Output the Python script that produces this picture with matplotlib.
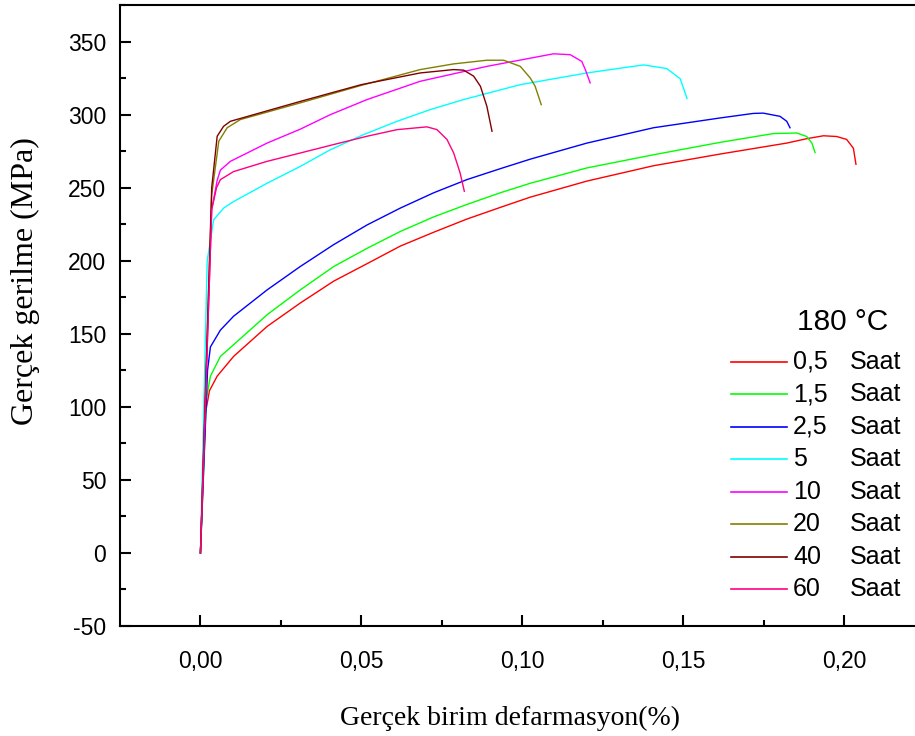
import matplotlib
matplotlib.use('Agg')
import matplotlib.pyplot as plt
from matplotlib.lines import Line2D

plt.rcParams['axes.unicode_minus'] = False

# ── data ─────────────────────────────────────────────────────────────────────
red_x = [0, 0.0015, 0.0028, 0.0052, 0.0103, 0.0207, 0.031, 0.0414, 0.0518, 0.0621,
         0.0725, 0.0828, 0.0932, 0.1025, 0.1201, 0.1408, 0.1615, 0.1822, 0.1884,
         0.1936, 0.1977, 0.2008, 0.2029, 0.2037]
red_y = [0, 95, 111, 121, 134.5, 155, 171, 186, 198, 210, 219.5, 228.5, 236.5, 243.5,
         254.5, 265, 273, 280.5, 283.5, 285.5, 285, 283, 277, 266]

green_x = [0, 0.0018, 0.0031, 0.0062, 0.0103, 0.0207, 0.031, 0.0414, 0.0518, 0.0621,
           0.0725, 0.0828, 0.0932, 0.1025, 0.1201, 0.1408, 0.1615, 0.178, 0.1853,
           0.1884, 0.19, 0.191]
green_y = [0, 105, 121, 134.5, 142.5, 163, 180, 196, 208.5, 220, 230, 238.5, 246.5,
           253, 263.5, 272.5, 281, 287, 287.4, 285, 280.5, 274]

blue_x = [0, 0.0022, 0.0031, 0.0062, 0.0103, 0.0207, 0.031, 0.0414, 0.0518, 0.0621,
          0.0725, 0.0828, 0.0932, 0.1025, 0.1201, 0.1408, 0.1615, 0.1718, 0.1749,
          0.1801, 0.1822, 0.1832]
blue_y = [0, 125, 141, 152.5, 162, 180, 196, 211, 224.5, 236, 246.5, 255.5, 263,
          269.5, 280.5, 291, 297.7, 300.8, 301, 298.8, 295.4, 291]

cyan_x = [0, 0.0021, 0.0041, 0.0072, 0.0103, 0.0207, 0.031, 0.0404, 0.0507, 0.0611,
          0.0714, 0.0818, 0.0994, 0.1201, 0.1377, 0.1449, 0.1491, 0.1512]
cyan_y = [0, 200, 228, 236, 240.5, 253, 264.5, 276, 286.3, 295.4, 303.4, 310.3,
          320.5, 328.5, 334, 331.5, 324.5, 311]

magenta_x = [0, 0.0035, 0.0052, 0.0062, 0.0093, 0.0207, 0.031, 0.0404, 0.0518,
             0.0683, 0.089, 0.1097, 0.1149, 0.1185, 0.1196, 0.1211]
magenta_y = [0, 235, 255, 262, 268, 280.5, 290, 300, 310.3, 322.8, 333, 341.6, 341,
             336.4, 330.8, 321.7]

olive_x = [0, 0.0035, 0.0057, 0.0083, 0.0124, 0.031, 0.05, 0.0683, 0.0787, 0.089,
           0.0942, 0.0994, 0.1025, 0.104, 0.1059]
olive_y = [0, 245, 281.8, 291, 296.6, 308, 320, 330.8, 334.7, 337.2, 337.2, 333,
           325, 319.4, 306.8]

wine_x = [0, 0.0035, 0.0052, 0.0072, 0.0093, 0.031, 0.05, 0.0683, 0.0787, 0.0818,
          0.0849, 0.087, 0.089, 0.0906]
wine_y = [0, 250, 285.2, 292, 295.4, 309, 320.5, 328.5, 330.8, 330.4, 326.3, 319.4,
          305.7, 288.6]

pink_x = [0, 0.0035, 0.0050, 0.0062, 0.0103, 0.0207, 0.031, 0.0414, 0.0518, 0.0611,
          0.0704, 0.0735, 0.0766, 0.0787, 0.0807, 0.082]
pink_y = [0, 235, 250, 255.5, 261, 268, 273.7, 279.5, 285.2, 289.7, 291.6, 289.7,
          283, 273.7, 260, 247.5]

hours  = ['0,5', '1,5', '2,5', '5', '10', '20', '40', '60']
colors = ['#FF0000', '#00FF00', '#0000FF', '#00FFFF', '#FF00FF', '#808000',
          '#800000', '#FF0080']
series = [(red_x, red_y), (green_x, green_y), (blue_x, blue_y), (cyan_x, cyan_y),
          (magenta_x, magenta_y), (olive_x, olive_y), (wine_x, wine_y),
          (pink_x, pink_y)]

SANS  = 'Liberation Sans'
SERIF = 'Liberation Serif'
W, H = 915, 736

fig = plt.figure(figsize=(W / 100, H / 100), dpi=100)
# axes box: left spine at x=120px, bottom at y=626px, top at y=5px; right spine off-canvas
ax = fig.add_axes([120 / W, (H - 626) / H, (924.5 - 120) / W, (626 - 5) / H])

for (x, y), c in zip(series, colors):
    ax.plot(x, y, color=c, lw=1.0)

ax.set_xlim(-0.025, 0.225)
ax.set_ylim(-50, 375)
ax.set_xticks([0, 0.05, 0.10, 0.15, 0.20])
ax.set_xticklabels(['0,00', '0,05', '0,10', '0,15', '0,20'])
ax.set_xticks([0.025, 0.075, 0.125, 0.175, 0.225], minor=True)
ax.set_yticks(range(-50, 351, 50))
ax.set_yticks(range(-25, 376, 50), minor=True)

for s in ax.spines.values():
    s.set_linewidth(1.5)
ax.tick_params(which='both', direction='in', width=1.5, top=False, right=False)
ax.tick_params(which='major', length=8)
ax.tick_params(which='minor', length=4)
ax.tick_params(axis='y', which='major', pad=10, labelsize=16.5)
ax.tick_params(axis='x', which='major', pad=17, labelsize=16.5)
for lbl in ax.get_xticklabels() + ax.get_yticklabels():
    lbl.set_family(SANS)

fig.text(510 / W, 1 - 718 / H, 'Gerçek birim defarmasyon(%)', family=SERIF,
         fontsize=20, ha='center', va='center')
fig.text(25 / W, 1 - 281 / H, 'Gerçek gerilme (MPa)', family=SERIF,
         fontsize=23, ha='center', va='center', rotation=90)

# ── legend drawn by hand (two text columns like the original) ─────────────────
fig.text(797 / W, 1 - 322 / H, '180 °C', family=SANS, fontsize=21.5,
         ha='left', va='center')
row0, dy = 361.5, 32.55
for i, (h, c) in enumerate(zip(hours, colors)):
    yy = 1 - (row0 + i * dy) / H
    fig.lines.append(Line2D([731 / W, 787 / W], [yy, yy], color=c, lw=1.2,
                            transform=fig.transFigure))
    fig.text(793 / W, yy, h, family=SANS, fontsize=18, ha='left', va='center')
    fig.text(850 / W, yy, 'Saat', family=SANS, fontsize=18, ha='left', va='center')

fig.savefig('out.png', dpi=100)
